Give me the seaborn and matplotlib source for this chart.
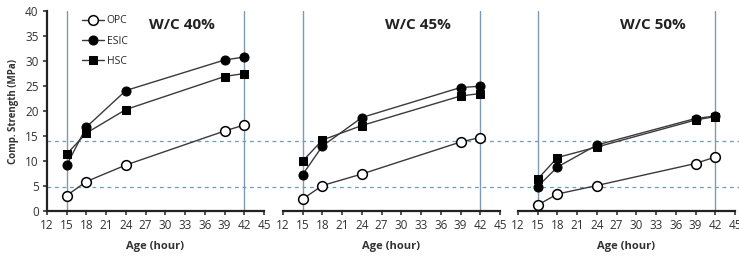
import matplotlib
matplotlib.use("Agg")
import matplotlib.pyplot as plt
import seaborn as sns
import pandas as pd

sns.set_style("white")
plt.rcParams['font.family'] = ['Open Sans', 'DejaVu Sans']

ages = [15, 18, 24, 39, 42]
panels = ["W/C 40%", "W/C 45%", "W/C 50%"]
series = ["OPC", "ESIC", "HSC"]

opc_40 = [3.1, 5.9, 9.2, 16.0, 17.2]
esic_40 = [9.2, 16.8, 24.1, 30.2, 30.8]
hsc_40 = [11.4, 15.6, 20.3, 26.9, 27.5]

opc_45 = [2.4, 5.1, 7.4, 13.8, 14.7]
esic_45 = [7.3, 13.0, 18.7, 24.7, 24.95]
hsc_45 = [10.0, 14.2, 17.1, 23.0, 23.5]

opc_50 = [1.2, 3.4, 5.1, 9.5, 10.8]
esic_50 = [4.9, 8.8, 13.2, 18.5, 19.0]
hsc_50 = [6.4, 10.7, 12.8, 18.2, 18.9]

data = {
    "W/C 40%": {"OPC": opc_40, "ESIC": esic_40, "HSC": hsc_40},
    "W/C 45%": {"OPC": opc_45, "ESIC": esic_45, "HSC": hsc_45},
    "W/C 50%": {"OPC": opc_50, "ESIC": esic_50, "HSC": hsc_50},
}

ref_h = [14, 4.8]
ref_v = [15, 42]
x_ticks = list(range(12, 46, 3))
y_ticks = list(range(0, 41, 5))

styles = {
    "OPC": dict(marker="o", markerfacecolor="white", markeredgecolor="black", markersize=7, markeredgewidth=1.1),
    "ESIC": dict(marker="o", markerfacecolor="black", markeredgecolor="black", markersize=6.5),
    "HSC": dict(marker="s", markerfacecolor="black", markeredgecolor="black", markersize=5.5),
}

fig = plt.figure(figsize=(7.39, 2.58), dpi=100)
W, H = 739, 258
lefts = [47, 283, 518]
width = 217
bottom, top = 211, 11

for i, name in enumerate(panels):
    ax = fig.add_axes([lefts[i] / W, 1 - bottom / H, width / W, (bottom - top) / H])
    ax.patch.set_visible(False)
    for xv in ref_v:
        ax.axvline(xv, color="#7f9ab5", lw=1.0, zorder=1)
    if i == 0:
        for yv in ref_h:
            ax.axhline(yv, xmin=0, xmax=(W - lefts[0]) / width, color="#6a9dbd",
                       lw=0.9, ls=(0, (3, 3)), clip_on=False, zorder=0)
    for s in series:
        df = pd.DataFrame({"age": ages, "val": data[name][s]})
        sns.lineplot(data=df, x="age", y="val", ax=ax, color="#3a3a3a", lw=1.0,
                     label=s if i == 0 else None, zorder=3, **styles[s])
    ax.set_xlim(12, 45)
    ax.set_ylim(0, 40)
    ax.set_xticks(x_ticks)
    ax.tick_params(axis="x", direction="out", length=3, width=1.2, labelsize=8.5,
                   bottom=True, colors="#333333", pad=3)
    ax.text(0.62, 0.93, name, transform=ax.transAxes, ha="center", va="center",
            fontsize=11, fontweight="bold", color="#222222")
    for sp in ["top", "right"]:
        ax.spines[sp].set_visible(False)
    ax.spines["bottom"].set_linewidth(1.6)
    ax.spines["bottom"].set_color("#222222")
    ax.set_xlabel("Age (hour)", fontsize=8, fontweight="bold", color="#333333", labelpad=6)
    if i == 0:
        ax.set_yticks(y_ticks)
        ax.tick_params(axis="y", direction="out", length=3, width=1.2, labelsize=8.5,
                       left=True, colors="#333333", pad=3)
        ax.spines["left"].set_linewidth(1.6)
        ax.spines["left"].set_color("#222222")
        ax.set_ylabel("Comp. Strength (MPa)", fontsize=7, fontweight="bold", color="#333333", labelpad=4)
        ax.legend(loc="upper left", bbox_to_anchor=(0.14, 1.0), frameon=False,
                  fontsize=7.5, handlelength=2.2, handletextpad=0.2, labelspacing=0.9,
                  borderaxespad=0)
    else:
        ax.spines["left"].set_visible(False)
        ax.set_yticks(y_ticks)
        ax.tick_params(axis="y", left=False, labelleft=False)
        ax.set_ylabel("")
        if ax.get_legend():
            ax.get_legend().remove()

fig.savefig("out.png", dpi=100)
